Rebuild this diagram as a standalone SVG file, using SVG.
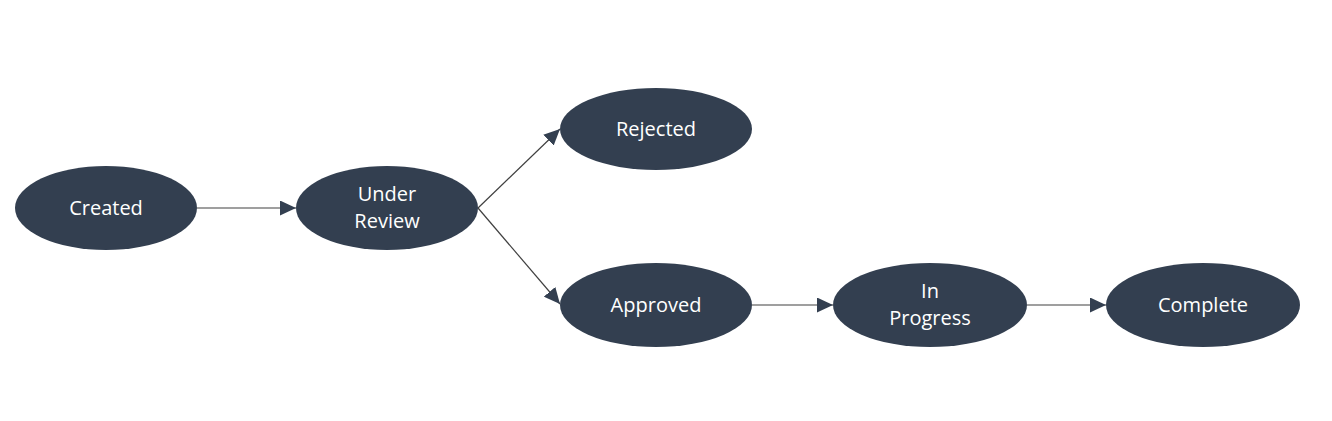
<svg xmlns="http://www.w3.org/2000/svg" width="1332" height="421" viewBox="0 0 1332 421">
<style>
.node{fill:#333F50;}
.lbl{fill:#FFFFFF;font-family:"Open Sans","Noto Sans",sans-serif;font-size:20px;text-anchor:middle;}
.edge{stroke:#404040;stroke-width:1.2;fill:none;marker-end:url(#arr);}
</style>
<defs>
<marker id="arr" markerUnits="userSpaceOnUse" markerWidth="16" markerHeight="15" refX="16" refY="7.5" orient="auto">
<path d="M0,0 L16,7.5 L0,15 Z" fill="#333F50"/>
</marker>
</defs>
<rect width="1332" height="421" fill="#FFFFFF"/>
<g id="connectors">
<line class="edge" x1="197" y1="208" x2="296" y2="208"/>
<line class="edge" x1="478" y1="208" x2="560" y2="129"/>
<line class="edge" x1="478" y1="208" x2="560" y2="304"/>
<line class="edge" x1="752" y1="305" x2="833" y2="305"/>
<line class="edge" x1="1027" y1="305" x2="1106" y2="305"/>
</g>
<g id="created">
<ellipse class="node" cx="106" cy="208" rx="91" ry="42"/>
<text class="lbl" x="106" y="215">Created</text>
</g>
<g id="under-review">
<ellipse class="node" cx="387" cy="208" rx="91" ry="42"/>
<text class="lbl" x="387" y="201">Under</text>
<text class="lbl" x="387" y="228">Review</text>
</g>
<g id="rejected">
<ellipse class="node" cx="656" cy="129" rx="96" ry="41"/>
<text class="lbl" x="656" y="136">Rejected</text>
</g>
<g id="approved">
<ellipse class="node" cx="656" cy="305" rx="96" ry="42"/>
<text class="lbl" x="656" y="312">Approved</text>
</g>
<g id="in-progress">
<ellipse class="node" cx="930" cy="305" rx="97" ry="42"/>
<text class="lbl" x="930" y="298">In</text>
<text class="lbl" x="930" y="325">Progress</text>
</g>
<g id="complete">
<ellipse class="node" cx="1203" cy="305" rx="97" ry="42"/>
<text class="lbl" x="1203" y="312">Complete</text>
</g>
</svg>
